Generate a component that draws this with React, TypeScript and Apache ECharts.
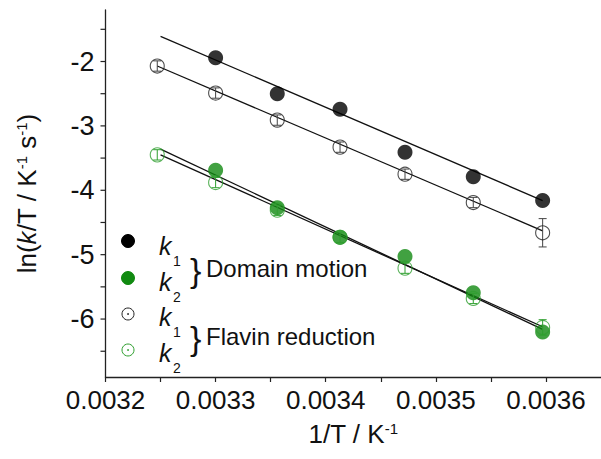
import React, { useEffect, useRef } from 'react';
import * as echarts from 'echarts';

// 1/T values (K^-1)
const invT = [0.003247, 0.0033, 0.003356, 0.003413, 0.003472, 0.003534, 0.003597];
// ln(k/T) values
const k1Domain = [null, -1.94, -2.5, -2.74, -3.41, -3.79, -4.16];
const k2Domain = [null, -3.69, -4.27, -4.73, -5.03, -5.59, -6.2];
const k1Flavin = [-2.07, -2.49, -2.91, -3.33, -3.75, -4.19, -4.66];
const k2Flavin = [-3.45, -3.88, -4.31, -4.73, -5.21, -5.68, -6.13];
const k1FlavinErr = [0.08, 0.08, 0.08, 0.08, 0.08, 0.08, 0.22];
const k2FlavinErr = [0.08, 0.08, 0.08, 0.08, 0.08, 0.08, 0.12];

// fitted lines (start / end)
const fitX = [0.00325, 0.003597];
const fitK1Domain = [-1.61, -4.16];
const fitK1Flavin = [-2.07, -4.63];
const fitK2Domain = [-3.36, -6.16];
const fitK2Flavin = [-3.45, -6.12];

// ticks
const xLabels = [0.0032, 0.0033, 0.0034, 0.0035, 0.0036];
const yLabels = [-6, -5, -4, -3, -2];
const yTickMarks = [-6.5, -6, -5.5, -5, -4.5, -4, -3.5, -3, -2.5, -2, -1.5];

const FONT = "'Liberation Sans', Arial, Helvetica, sans-serif";
const GREEN = '#118a11';
const GREEN_OPEN = '#2f9f2f';

const pair = (xs: number[], ys: (number | null)[]) =>
  xs.map((x, i) => [x, ys[i]]).filter((p) => p[1] !== null);

const errData = (ys: number[], es: number[]) => invT.map((x, i) => [x, ys[i], es[i]]);

const errRender = (color: string) => (params: any, api: any) => {
  const x = api.value(0);
  const y = api.value(1);
  const e = api.value(2);
  const top = api.coord([x, y + e]);
  const bot = api.coord([x, y - e]);
  const w = 4;
  const st = { stroke: color, lineWidth: 1 };
  return {
    type: 'group',
    children: [
      { type: 'line', shape: { x1: top[0], y1: top[1], x2: bot[0], y2: bot[1] }, style: st },
      { type: 'line', shape: { x1: top[0] - w, y1: top[1], x2: top[0] + w, y2: top[1] }, style: st },
      { type: 'line', shape: { x1: bot[0] - w, y1: bot[1], x2: bot[0] + w, y2: bot[1] }, style: st },
    ],
  };
};

export default function App() {
  const ref = useRef<HTMLDivElement>(null);
  useEffect(() => {
    if (!ref.current) return;
    const chart = echarts.init(ref.current, undefined, { renderer: 'svg' });

    const legendY = [241, 278, 314, 350];
    const kY = [246, 282, 317, 353];
    const legendGraphics: any[] = [];
    const legendStyles = [
      { fill: '#000', stroke: '#000', open: false },
      { fill: GREEN, stroke: GREEN, open: false },
      { fill: '#fff', stroke: '#222', open: true },
      { fill: '#fff', stroke: GREEN_OPEN, open: true },
    ];
    const subs = ['1', '2', '1', '2'];
    legendStyles.forEach((s, i) => {
      legendGraphics.push({
        type: 'circle',
        shape: { cx: 128, cy: legendY[i], r: s.open ? 6 : 6.5 },
        style: { fill: s.fill, stroke: s.stroke, lineWidth: 1 },
      });
      if (s.open) {
        legendGraphics.push({
          type: 'circle',
          shape: { cx: 128, cy: legendY[i], r: 0.9 },
          style: { fill: s.stroke },
        });
      }
      legendGraphics.push({
        type: 'text',
        x: 159,
        y: kY[i],
        style: {
          text: 'k',
          font: `italic 25px ${FONT}`,
          fill: '#111',
          textVerticalAlign: 'middle',
        },
      });
      legendGraphics.push({
        type: 'text',
        x: 173,
        y: kY[i] + 15,
        style: {
          text: subs[i],
          font: `14px ${FONT}`,
          fill: '#111',
          textVerticalAlign: 'middle',
        },
      });
    });
    legendGraphics.push(
      {
        type: 'text',
        x: 190,
        y: 270,
        style: { text: '}', font: `34px ${FONT}`, fill: '#111', textVerticalAlign: 'middle' },
      },
      {
        type: 'text',
        x: 206,
        y: 268,
        style: { text: 'Domain motion', font: `24px ${FONT}`, fill: '#111', textVerticalAlign: 'middle' },
      },
      {
        type: 'text',
        x: 190,
        y: 338,
        style: { text: '}', font: `34px ${FONT}`, fill: '#111', textVerticalAlign: 'middle' },
      },
      {
        type: 'text',
        x: 206,
        y: 336,
        style: { text: 'Flavin reduction', font: `24px ${FONT}`, fill: '#111', textVerticalAlign: 'middle' },
      }
    );

    const lineSeries = (ys: number[]) => ({
      type: 'line',
      data: fitX.map((x, i) => [x, ys[i]]),
      symbol: 'none',
      lineStyle: { color: '#111', width: 1.3 },
      z: 2,
      silent: true,
    });

    chart.setOption({
      animation: false,
      backgroundColor: '#fff',
      grid: { left: 105.5, top: 10, height: 367, width: 497 },
      xAxis: {
        type: 'value',
        min: 0.0032,
        max: 0.00365,
        interval: 0.00005,
        name: '{a|1/T / K}{s|-1}',
        nameLocation: 'middle',
        nameGap: 44,
        nameTextStyle: {
          rich: {
            a: { fontSize: 26, fontFamily: FONT, color: '#111' },
            s: { fontSize: 15, fontFamily: FONT, color: '#111', verticalAlign: 'top' },
          },
        },
        axisLine: { onZero: false, lineStyle: { color: '#222', width: 1.3 } },
        axisTick: { show: true, inside: false, length: 5, lineStyle: { color: '#222', width: 1.2 } },
        splitLine: { show: false },
        axisLabel: {
          margin: 10,
          fontSize: 26,
          fontFamily: FONT,
          color: '#111',
          showMaxLabel: false,
          formatter: (v: number) => {
            const t = xLabels.find((l) => Math.abs(l - v) < 1e-9);
            return t !== undefined ? t.toFixed(4) : '';
          },
        },
      },
      yAxis: {
        type: 'value',
        min: -6.9,
        max: -1.2,
        interval: 0.1,
        name: '{a|ln(}{i|k}{a|/T / K}{s|-1}{a| s}{s|-1}{a|)}',
        nameLocation: 'middle',
        nameGap: 66,
        nameTextStyle: {
          rich: {
            a: { fontSize: 26, fontFamily: FONT, color: '#111' },
            i: { fontSize: 26, fontFamily: FONT, color: '#111', fontStyle: 'italic' },
            s: { fontSize: 15, fontFamily: FONT, color: '#111', verticalAlign: 'top' },
          },
        },
        axisLine: { onZero: false, lineStyle: { color: '#222', width: 1.3 } },
        axisTick: { show: false },
        splitLine: { show: false },
        axisLabel: {
          margin: 11,
          fontSize: 27,
          fontFamily: FONT,
          color: '#111',
          formatter: (v: number) => {
            const t = yLabels.find((l) => Math.abs(l - v) < 1e-6);
            return t !== undefined ? String(t) : '';
          },
        },
      },
      graphic: legendGraphics,
      series: [
        {
          type: 'custom',
          clip: false,
          silent: true,
          data: yTickMarks.map((v) => [0.0032, v]),
          renderItem: (params: any, api: any) => {
            const p = api.coord([api.value(0), api.value(1)]);
            return {
              type: 'line',
              shape: { x1: p[0] - 5, y1: p[1], x2: p[0], y2: p[1] },
              style: { stroke: '#222', lineWidth: 1.2 },
            };
          },
        },
        lineSeries(fitK1Domain),
        { ...lineSeries(fitK1Flavin), data: [[invT[0], fitK1Flavin[0]], [fitX[1], fitK1Flavin[1]]] },
        lineSeries(fitK2Domain),
        lineSeries(fitK2Flavin),
        {
          type: 'scatter',
          data: pair(invT, k2Domain),
          symbol: 'circle',
          symbolSize: 15,
          itemStyle: { color: GREEN },
          z: 3,
        },
        {
          type: 'scatter',
          data: pair(invT, k1Domain),
          symbol: 'circle',
          symbolSize: 15,
          itemStyle: { color: '#000' },
          z: 3,
        },
        {
          type: 'custom',
          data: errData(k1Flavin, k1FlavinErr),
          renderItem: errRender('#444'),
          z: 4,
          silent: true,
          clip: false,
        },
        {
          type: 'custom',
          data: errData(k2Flavin, k2FlavinErr),
          renderItem: errRender(GREEN_OPEN),
          z: 4,
          silent: true,
          clip: false,
        },
        {
          type: 'scatter',
          data: pair(invT, k1Flavin),
          symbol: 'circle',
          symbolSize: 14,
          itemStyle: { color: 'rgba(255,255,255,0)', borderColor: '#222', borderWidth: 1.1 },
          z: 5,
        },
        {
          type: 'scatter',
          data: pair(invT, k2Flavin),
          symbol: 'circle',
          symbolSize: 14,
          itemStyle: { color: 'rgba(255,255,255,0)', borderColor: GREEN_OPEN, borderWidth: 1.1 },
          z: 5,
        },
      ],
    });
    return () => chart.dispose();
  }, []);
  return (
    <div
      ref={ref}
      style={{ position: 'fixed', left: 0, top: 0, width: 601, height: 459, background: '#fff' }}
    />
  );
}
